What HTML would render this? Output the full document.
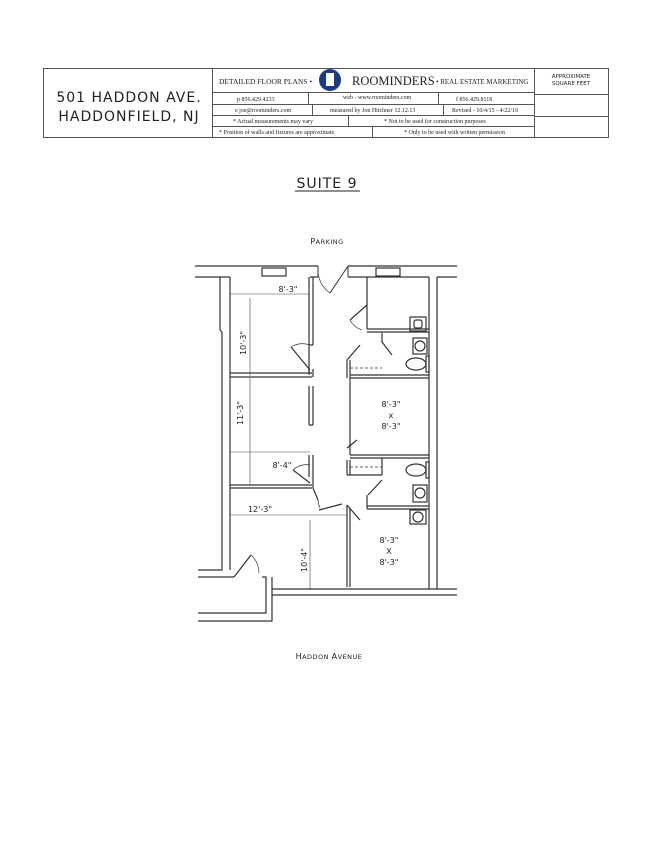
<!DOCTYPE html>
<html><head><meta charset="utf-8"><style>
body{margin:0;background:#fff;width:650px;height:841px;overflow:hidden}
svg{display:block}
.s{font-family:"Liberation Serif",serif;fill:#222}
.a{font-family:"DejaVu Sans","Liberation Sans",sans-serif;fill:#222}
</style></head><body>
<svg width="650" height="841" viewBox="0 0 650 841" xmlns="http://www.w3.org/2000/svg">
<g stroke="#555" stroke-width="1" fill="none">
<rect x="43.5" y="68.5" width="565" height="69"/>
<line x1="212.5" y1="68" x2="212.5" y2="138"/>
<line x1="534.5" y1="68" x2="534.5" y2="138"/>
<line x1="212" y1="92.5" x2="534" y2="92.5"/>
<line x1="212" y1="104.5" x2="534" y2="104.5"/>
<line x1="212" y1="115.5" x2="534" y2="115.5"/>
<line x1="212" y1="126.5" x2="534" y2="126.5"/>
<line x1="534" y1="94.5" x2="608" y2="94.5"/>
<line x1="534" y1="116.5" x2="608" y2="116.5"/>
<line x1="308.5" y1="92" x2="308.5" y2="104"/>
<line x1="438.5" y1="92" x2="438.5" y2="104"/>
<line x1="312.5" y1="104" x2="312.5" y2="115"/>
<line x1="443.5" y1="104" x2="443.5" y2="115"/>
<line x1="348.5" y1="115" x2="348.5" y2="126"/>
<line x1="372.5" y1="126" x2="372.5" y2="137"/>
</g>
<text x="129" y="102" text-anchor="middle" class="a" font-size="14" letter-spacing="1">501 HADDON AVE.</text>
<text x="129" y="121" text-anchor="middle" class="a" font-size="14" letter-spacing="1">HADDONFIELD, NJ</text>
<text x="219" y="84" class="s" font-size="7.5">DETAILED FLOOR PLANS •</text>
<circle cx="330" cy="80" r="11" fill="#1a3a8a"/>
<rect x="326" y="73" width="8" height="13" fill="#fff"/>
<text x="352" y="85" class="s" font-size="12.5">ROOMINDERS</text>
<text x="436" y="84" class="s" font-size="7">• REAL ESTATE MARKETING</text>
<text x="571" y="78" text-anchor="middle" class="a" font-size="5.5">APPROXIMATE</text>
<text x="571" y="85" text-anchor="middle" class="a" font-size="5.5">SQUARE FEET</text>
<g class="s" font-size="6">
<text x="237" y="101">p  856.429.4233</text>
<text x="343" y="99">web -  www.roominders.com</text>
<text x="456" y="101">f  856.429.8118</text>
<text x="235" y="112">e  joe@roominders.com</text>
<text x="330" y="112">measured by Jon Hitchner  12.12.13</text>
<text x="452" y="112">Revised - 10/4/15 - 4/22/19</text>
<text x="233" y="123">* Actual measurements may vary</text>
<text x="384" y="123">* Not to be used for construction purposes</text>
<text x="219" y="134">* Position of walls and fixtures are approximate</text>
<text x="404" y="134">* Only to be used with written permission</text>
</g>
<text x="327" y="188" text-anchor="middle" class="a" font-size="14" letter-spacing="1">SUITE 9</text>
<line x1="295" y1="191" x2="360" y2="191" stroke="#222" stroke-width="1"/>
<text x="327" y="244" text-anchor="middle" class="a" font-size="8" letter-spacing="0.5">P<tspan font-size="6.5">ARKING</tspan></text>
<text x="329" y="659" text-anchor="middle" class="a" font-size="8" letter-spacing="0.5">H<tspan font-size="6.5">ADDON </tspan>A<tspan font-size="6.5">VENUE</tspan></text>

<g stroke="#333" stroke-width="1.2" fill="none">
<path d="M195 266H318M348 266H457M195 277H230M310 277H318M348 277H429M437 277H457"/>
<rect x="262" y="268" width="24" height="8"/><rect x="376" y="268" width="24" height="8"/>
<path d="M220 277V330L222 332V570H198M230 277V570M198 577H234"/>
<path d="M262 577H266V613H198M272 577V621H198M272 589H457M272 595H457"/>
<path d="M429 277V589M437 277V589"/>
<path d="M230 373H312M230 377H312M230 485H312M230 488H312"/>
<path d="M309 277V345M313 277V345M309 369V373M313 369V377"/>
<path d="M309 345H313M309 345V375"/>
<path d="M309 386V425M313 386V425M309 425H313"/>
<path d="M309 455V477M313 455V488"/>
<path d="M347 505V587M350 508V587"/>
<path d="M318 266V277M348 266V277M348 266L330 293" stroke-width="1"/>
<path d="M330 293A28 28 0 0 1 318 268" stroke-width="0.7"/>
<path d="M367 277V305L350 320M367 332H429M367 329H429M367 329V305" />
<path d="M350 320A20 20 0 0 0 362 330" stroke-width="0.7"/>
<path d="M350 375H429M350 378H429M347 360V378M350 360V378M347 360L360 345"/>
<path d="M382 333V342L392 355"/>
<path d="M350 368H382" stroke-dasharray="3 2" stroke-width="0.7"/>
<path d="M350 378V455M350 455H429M350 458H429"/>
<path d="M357 440L347 448M347 460V475M350 460V475M347 475H382M382 458V475"/>
<path d="M350 467H382" stroke-dasharray="3 2" stroke-width="0.7"/>
<path d="M382 480L368 495M367 506H429M367 509H429M367 495V509"/>
<path d="M347 505L360 520"/>
<path d="M291 347L310 370"/><path d="M291 347A22 22 0 0 1 310 345" stroke-width="0.7"/>
<path d="M293 470L310 483"/><path d="M293 470A20 20 0 0 1 310 465" stroke-width="0.7"/>
<path d="M313 488L318 500M319 510L342 504"/>
<path d="M318 500A20 20 0 0 0 320 508" stroke-width="0.7"/>
<path d="M234 577L251 555"/><path d="M251 555A24 24 0 0 1 259 573" stroke-width="0.7"/>
<rect x="410" y="317" width="16" height="14"/><rect x="414" y="320" width="8" height="8" rx="2"/>
<rect x="413" y="338" width="14" height="16"/><circle cx="420" cy="346" r="5"/>
<rect x="426" y="356" width="3" height="16"/><ellipse cx="416" cy="364" rx="10" ry="6"/>
<rect x="426" y="462" width="3" height="16"/><ellipse cx="416" cy="470" rx="10" ry="6"/>
<rect x="413" y="485" width="14" height="17"/><circle cx="420" cy="493" r="5"/>
<rect x="410" y="510" width="16" height="14"/><circle cx="418" cy="517" r="5"/>
</g>
<g stroke="#444" stroke-width="0.6" fill="none">
<path d="M230 294H310M250 298V376M230 452H310M250 378V485M230 515H347M310 520V590"/>
</g>
<g class="a" font-size="8" text-anchor="middle">
<text x="288" y="292">8'-3"</text>
<text x="282" y="468">8'-4"</text>
<text x="260" y="512">12'-3"</text>
<text transform="translate(246 343) rotate(-90)">10'-3"</text>
<text transform="translate(243 413) rotate(-90)">11'-3"</text>
<text transform="translate(307 560) rotate(-90)">10'-4"</text>
<text x="391" y="407">8'-3"</text><text x="391" y="418">x</text><text x="391" y="429">8'-3"</text>
<text x="389" y="543">8'-3"</text><text x="389" y="554">X</text><text x="389" y="565">8'-3"</text>
</g>
</svg>
</body></html>
